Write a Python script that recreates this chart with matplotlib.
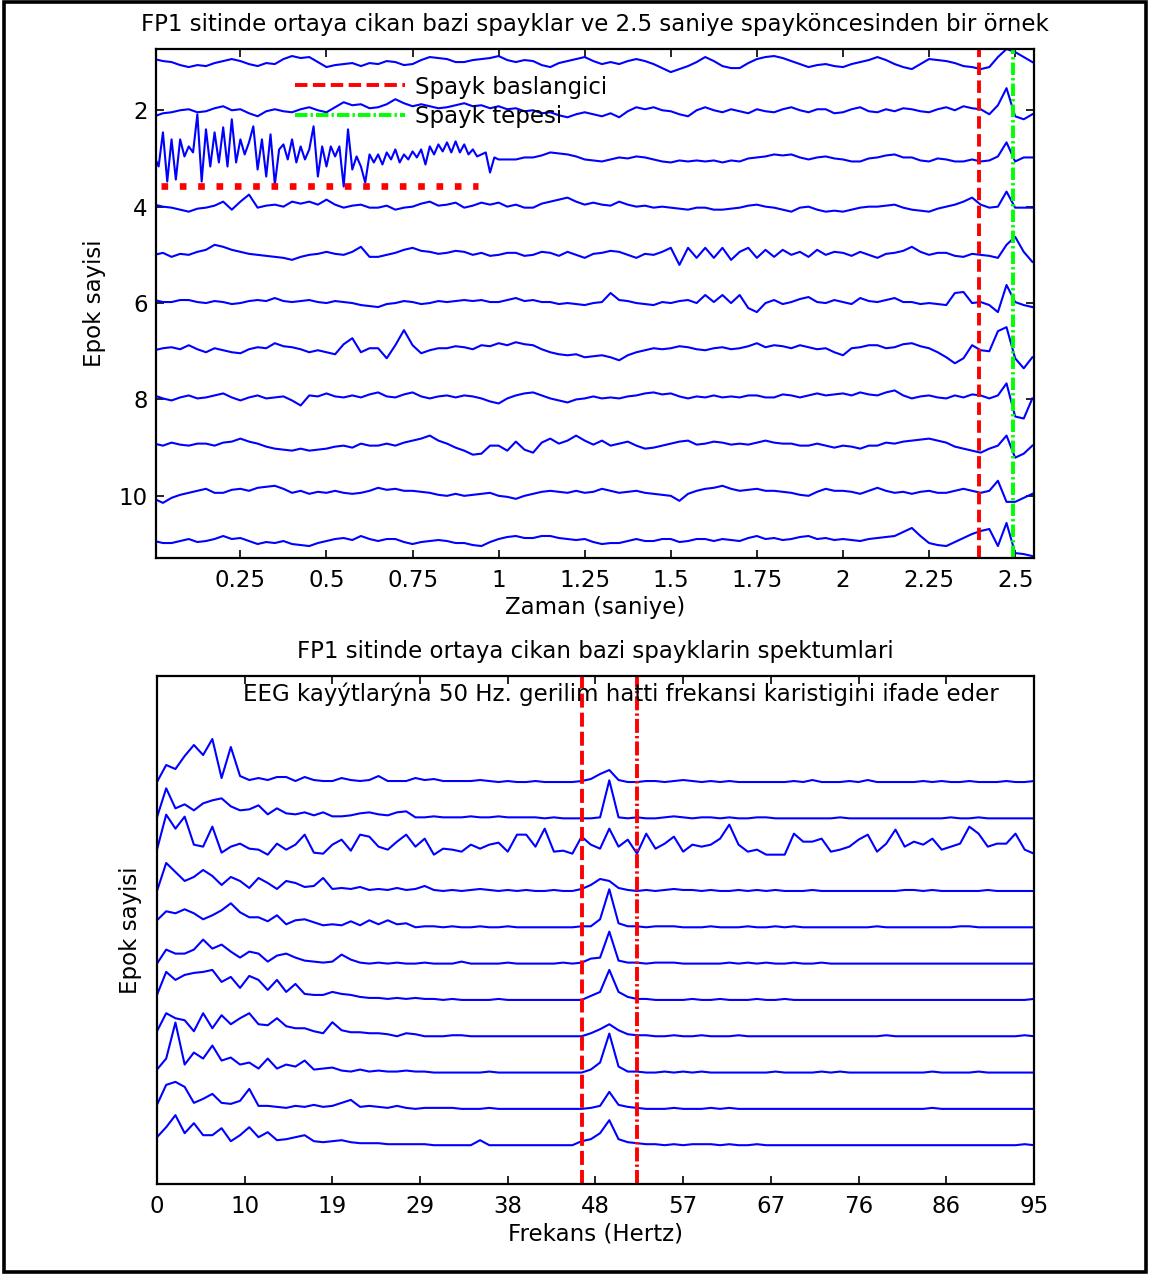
import numpy as np
import matplotlib
matplotlib.use("Agg")
import matplotlib.pyplot as plt
from matplotlib.patches import Rectangle

plt.rcParams['font.family'] = ['DejaVu Sans']
FS = 16.5

# markers
spike_onset = 2.396      # s
spike_peak = 2.494       # s
noisy_span = [0.02, 0.94]
noisy_level = 3.58
line_band = [46.0, 52.0]  # Hz

# --- epochs (deflection, px of the original, up = +), dt = 0.025 s
dt = 0.025
ep1 = [3,1,0,-3,-5,-3,-4,-1,1,3,
       1,-2,-4,-1,-2,3,6,4,5,0,
       -5,-3,-2,-1,-4,-1,-2,1,0,-3,
       -2,2,5,4,3,0,0,2,3,4,
       6,2,0,2,1,-3,-5,-1,1,3,
       5,1,-2,0,-2,1,3,1,-2,-6,
       -10,-7,-4,0,5,1,-4,-6,-6,-1,
       3,5,6,4,1,-2,-5,-3,-2,-4,
       -5,-2,0,2,5,2,-2,-5,-7,-2,
       3,2,1,-1,-4,-5,-7,-5,5,13,
       10,5,0]
ep2 = [-6,-3,-2,0,1,-2,-1,2,4,0,
       1,-3,-6,-1,1,-1,-2,1,3,0,
       -2,3,8,5,6,2,3,6,11,7,
       4,6,4,2,3,5,7,4,5,2,
       4,1,2,-1,0,-3,-2,-5,-7,-4,
       -2,-4,-6,-3,-7,-1,3,1,3,0,
       -1,-4,-6,0,3,0,-2,1,-1,-3,
       1,-1,-2,1,3,0,-2,1,1,-3,
       -2,1,3,-1,-2,1,-1,2,1,-1,
       -2,1,3,0,4,2,1,-4,5,22,
       -6,-9,-4]
# epoch 3: noisy burst sampled at dt/2 up to 1.0 s, then dt
ep3_burst = [2,-8,26,-23,19,-21,19,2,12,6,
             44,-23,29,-8,26,-4,31,-8,39,-4,
             19,4,16,32,-11,19,-18,24,-26,9,
             14,-1,19,-4,12,-1,9,32,-18,12,
             -8,12,2,12,-28,29,-11,2,-8,-24,
             4,-4,4,-6,6,-1,9,-4,4,-1,
             7,1,9,-6,12,4,14,7,16,6,
             17,6,14,4,9,2,4,6,-14,1,
             -1]
ep3_tail = [-1,-1,1,1,3,6,5,4,2,
            -1,-2,-3,-1,1,0,2,1,-1,-3,
            -4,-2,-3,-2,-3,-2,-4,-2,-3,0,
            1,2,4,3,4,1,-1,1,2,0,
            -1,-3,-3,0,1,3,4,1,1,-2,
            -3,0,-1,-3,-3,-1,-3,-2,2,16,
            -3,1,1]
ep4 = [2,0,-1,-3,-5,-2,-1,1,5,-3,
       5,12,-1,1,2,0,5,3,5,2,
       7,2,-1,1,2,-1,-1,1,-3,-1,
       0,3,5,1,2,4,-1,1,4,2,
       4,0,2,-1,-1,3,5,7,9,5,
       2,4,2,1,5,2,0,1,-1,0,
       -1,-2,-3,-1,-1,-3,-3,-2,-1,1,
       2,0,-1,-3,-5,-1,0,-3,-5,-4,
       -5,-3,-1,0,0,1,2,-1,-3,-4,
       -5,-2,0,2,5,9,2,-1,0,15,
       -1,-1,-1]
ep5 = [0,2,-2,1,0,3,5,10,8,5,
       3,1,0,-1,-2,-3,-5,-2,0,1,
       3,1,0,3,8,-2,-2,0,2,5,
       7,4,3,1,2,4,3,0,2,-1,
       0,2,2,-1,0,3,2,-1,3,0,
       -3,1,2,4,3,0,-3,1,0,3,
       7,-10,7,-3,7,-3,7,-5,3,7,
       -3,5,-2,5,0,3,-2,5,0,3,
       2,-1,3,0,-3,1,2,4,8,3,
       0,2,2,-1,-2,1,0,-1,-3,10,
       18,3,-7]
ep6 = [3,1,1,3,3,1,0,2,1,-1,
       0,2,3,2,5,2,1,2,3,1,
       0,2,1,0,-2,-3,-4,-1,0,2,
       1,-1,0,2,1,2,3,2,3,1,
       1,3,5,2,3,1,1,-1,0,-1,
       -2,0,1,10,3,2,0,-1,-2,1,
       0,2,3,0,8,1,8,0,8,-5,
       -9,0,3,-1,1,4,6,1,0,3,
       1,-1,5,2,1,3,5,1,1,-1,
       0,-1,-2,10,11,0,1,-2,-9,18,
       1,-2,-4]
ep7 = [1,3,4,2,6,2,-1,3,1,-1,
       -2,2,4,3,8,5,4,2,-1,1,
       -1,-3,7,13,-1,3,3,-7,6,21,
       6,-2,1,3,3,5,4,2,6,5,
       8,6,9,7,6,2,-1,-3,-4,-3,
       -6,-5,-4,-6,-9,-4,-1,1,3,2,
       3,5,4,2,1,3,4,2,3,5,
       8,4,6,5,3,6,4,2,3,-1,
       -4,3,4,6,6,3,4,7,8,5,
       3,-1,-6,-12,-7,6,1,0,20,24,
       -7,-17,-6]
ep8 = [4,1,-1,2,4,1,2,4,6,2,
       -1,2,4,1,2,3,-1,-6,4,3,
       6,3,2,4,2,5,7,3,2,5,
       7,3,1,3,4,2,4,3,1,-2,
       -4,1,4,6,7,4,1,-1,-3,0,
       1,3,1,2,1,3,4,6,7,5,
       6,3,1,3,2,4,2,3,2,4,
       4,2,2,5,4,2,4,6,4,5,
       6,4,7,5,4,7,9,4,1,3,
       4,2,1,4,2,5,4,1,4,16,
       -17,-19,1]
ep9 = [4,2,5,3,2,4,4,2,5,6,
       9,6,4,1,-1,-2,-3,-1,-3,-2,
       -1,1,2,0,4,2,2,4,2,5,
       7,9,12,7,4,0,-3,-7,-6,2,
       2,-3,6,-2,-5,5,9,4,7,12,
       7,3,7,2,4,6,2,-1,0,2,
       4,6,7,3,4,6,5,3,4,3,
       5,7,5,4,4,2,2,4,2,0,
       2,1,-1,2,2,5,4,6,7,8,
       9,7,5,1,-1,-3,-5,-1,2,12,
       -10,-6,2]
ep10 = [-3,-7,-2,1,3,5,7,3,3,6,
        7,5,8,9,10,7,3,5,2,4,
        3,5,3,2,3,5,8,6,7,5,
        5,4,3,1,0,2,0,1,2,3,
        0,-1,-3,0,2,4,5,4,3,5,
        3,4,7,5,3,4,5,3,2,1,
        0,-5,2,5,7,8,10,7,5,6,
        7,5,5,4,3,1,0,4,7,5,
        5,4,2,5,8,5,3,4,2,4,
        5,3,3,5,7,5,3,5,15,-6,
        -6,-2,2]
ep11 = [3,1,1,3,5,2,3,5,8,5,
        6,3,0,2,1,3,0,-1,-2,1,
        3,5,6,4,8,5,3,5,5,2,
        0,2,3,4,3,1,1,-1,-2,2,
        5,7,8,6,6,8,8,6,5,4,
        5,2,0,1,1,3,5,3,3,5,
        5,2,3,5,5,3,5,4,3,6,
        8,5,6,4,5,7,8,5,6,4,
        5,4,3,5,6,7,8,12,16,8,
        1,-1,-2,2,6,10,13,15,-2,21,
        -9,-10,-12]

# --- spectra (px of the original above baseline), df = 1 Hz, 0..95 Hz
df = 1.0
sp1 = [0,17,13,26,37,27,43,4,35,6, 2,4,2,5,5,1,5,2,1,1, 4,2,1,2,6,1,1,1,4,2,
       3,1,1,1,1,2,1,0,1,0, 0,1,0,0,0,0,1,3,8,12, 2,0,0,1,1,0,1,2,1,0,
       1,0,1,0,0,0,0,0,0,1, 0,2,0,0,0,1,0,2,0,0, 0,0,0,1,0,1,0,0,1,0, 0,0,1,0,0,1]
sp2 = [1,30,10,14,8,15,18,20,12,8, 9,13,4,10,5,4,6,3,6,2, 2,3,5,6,4,3,6,7,1,1,
       2,1,1,1,2,1,1,2,1,1, 1,1,0,1,0,0,0,0,1,38, 1,0,1,0,0,1,2,1,0,1,
       1,0,1,0,0,1,1,0,0,0, 0,0,0,0,1,0,0,0,0,0, 0,0,0,0,0,0,1,0,0,1, 0,0,0,0,0,0]
sp3 = [5,40,26,38,10,8,28,2,8,11, 6,5,0,11,5,10,20,2,1,10, 15,4,20,18,8,5,13,20,8,16,
       0,6,5,3,10,6,10,12,3,20, 20,8,26,3,4,1,18,10,6,26, 8,15,1,21,6,11,18,3,10,8,
       10,16,30,10,3,5,0,0,0,21, 13,13,16,3,5,8,15,20,3,11, 25,8,13,10,16,5,8,11,28,21,
       8,11,11,21,5,1]
sp4 = [0,28,19,10,14,21,15,6,14,10, 3,13,8,2,10,8,4,5,13,2, 3,2,4,1,2,1,3,1,2,5,
       1,0,1,0,1,2,1,0,1,0, 1,0,0,1,0,0,2,6,12,10, 3,1,0,1,0,1,2,1,1,0,
       1,0,0,1,0,1,0,1,0,0, 0,1,0,0,0,0,0,0,0,0, 0,1,1,0,1,0,0,0,0,0, 1,0,0,0,0,0]
sp5 = [7,16,14,18,14,8,12,17,24,15, 10,10,6,12,3,7,8,5,2,3, 2,6,2,7,3,7,3,4,0,1,
       1,0,1,0,0,1,0,0,1,0, 0,0,0,0,0,0,1,1,8,38, 4,1,1,0,1,1,1,0,0,0,
       1,0,0,0,1,0,0,1,0,1, 0,0,0,0,0,0,0,0,1,0, 0,0,0,0,0,0,0,1,1,0, 0,0,0,0,0,0]
sp6 = [0,14,10,10,14,24,15,19,12,6, 12,10,2,8,10,6,3,2,1,2, 9,4,1,0,1,0,1,0,0,1,
       0,0,0,2,0,0,0,0,1,0, 0,0,0,0,1,0,1,5,6,32, 3,1,1,0,1,1,1,0,0,0,
       0,0,1,0,1,0,1,0,0,1, 0,0,1,0,0,0,0,0,0,0, 0,0,0,0,0,0,0,0,0,0, 0,0,0,0,0,0]
sp7 = [5,28,20,25,27,28,30,18,23,12, 24,20,10,20,8,16,6,5,5,8, 6,5,3,2,2,1,2,1,2,1,
       1,0,1,0,0,0,0,1,0,0, 0,0,0,0,0,0,0,4,8,30, 8,3,1,1,0,0,0,0,1,0,
       0,1,0,0,0,1,0,0,1,0, 0,0,0,0,0,0,0,0,0,0, 0,0,0,0,0,0,0,0,0,0, 0,0,0,0,0,1]
sp8 = [5,23,18,16,5,23,8,21,12,18, 23,12,11,18,10,8,8,5,3,14, 6,4,4,3,3,2,0,3,2,0,
       0,0,1,1,0,0,0,0,0,0, 0,0,0,0,0,0,0,3,7,12, 6,2,1,1,0,0,1,0,0,1,
       0,0,0,1,0,0,0,0,0,0, 0,0,0,0,0,0,0,0,0,1, 0,0,0,0,0,0,0,0,0,0, 0,0,0,0,1,0]
sp9 = [3,14,50,8,20,14,27,12,15,8, 10,4,14,4,8,6,12,3,4,5, 2,1,3,1,2,1,1,2,1,1,
       0,0,0,0,0,0,1,0,0,0, 0,0,0,0,0,0,0,3,10,39, 6,1,1,0,0,1,0,1,0,1,
       0,0,0,0,0,0,0,1,0,0, 0,0,1,0,1,0,0,0,0,0, 0,0,0,0,1,0,0,0,0,1, 0,0,0,0,0,0]
sp10 = [4,24,27,22,6,10,15,6,5,8, 20,3,3,2,1,3,2,4,2,3, 6,9,2,3,2,1,3,1,0,1,
        1,1,1,0,0,0,1,0,0,0, 0,0,0,0,0,0,0,1,3,17, 4,2,1,0,0,0,1,0,0,0,
        1,0,1,0,0,0,0,0,0,0, 0,0,0,0,0,0,0,0,0,0, 0,0,0,0,1,0,0,0,0,0, 0,0,0,0,0,0]
sp11 = [8,18,30,12,22,10,10,17,4,10, 18,8,13,5,6,8,10,4,3,4, 5,3,2,2,2,1,1,1,1,1,
        0,0,0,0,0,5,0,0,0,0, 0,0,0,0,0,0,4,6,12,25, 6,3,2,1,1,0,1,0,1,1,
        1,0,1,0,0,1,0,0,0,0, 0,0,0,0,0,0,0,0,0,0, 0,0,0,0,0,0,0,0,0,0, 0,0,0,0,1,0]
spectra = [sp1, sp2, sp3, sp4, sp5, sp6, sp7, sp8, sp9, sp10, sp11]

time_ticks = [0.25, 0.5, 0.75, 1, 1.25, 1.5, 1.75, 2, 2.25, 2.5]
time_labels = ['0.25', '0.5', '0.75', '1', '1.25', '1.5', '1.75', '2', '2.25', '2.5']
freq_ticks = [0, 9.5, 19, 28.5, 38, 47.5, 57, 66.5, 76, 85.5, 95]
freq_labels = ['0', '10', '19', '29', '38', '48', '57', '67', '76', '86', '95']

t_reg = np.arange(103) * dt
t3 = np.concatenate([np.arange(len(ep3_burst)) * dt / 2,
                     1.0 + np.arange(1, len(ep3_tail) + 1) * dt])
epochs = [(t_reg, ep1), (t_reg, ep2), (t3, ep3_burst + ep3_tail), (t_reg, ep4),
          (t_reg, ep5), (t_reg, ep6), (t_reg, ep7), (t_reg, ep8), (t_reg, ep9),
          (t_reg, ep10), (t_reg, ep11)]
for t, e in epochs:
    assert len(t) == len(e), (len(t), len(e))
for s in spectra:
    assert len(s) == 96, len(s)

fig = plt.figure(figsize=(11.55, 12.74), dpi=100)

# ---------------- top: epochs
ax1 = fig.add_axes([0.1351, 0.5620, 0.7602, 0.3995])
for k, (t, ep) in enumerate(epochs, start=1):
    ax1.plot(t, k - np.array(ep) / 48.0, color='b', lw=1.5)

ax1.plot(noisy_span, [noisy_level, noisy_level], color='r', lw=4.8,
         ls=(0, (1, 1.75)), dash_capstyle='butt')
l_on = ax1.axvline(spike_onset, color='r', lw=2.8, ls=(0, (3.2, 1.4)),
                   label='Spayk baslangici')
l_pk = ax1.axvline(spike_peak, color=(0, 1, 0), lw=2.8,
                   ls=(0, (3.2, 0.8, 0.6, 0.8)), label='Spayk tepesi')

ax1.set_xlim(0.005, 2.555)
ax1.set_ylim(11.29, 0.73)
ax1.set_xticks(time_ticks)
ax1.set_xticklabels(time_labels)
ax1.set_yticks([2, 4, 6, 8, 10])
ax1.tick_params(direction='in', top=True, right=True, length=6, width=1.2,
                labelsize=FS, pad=8)
ax1.tick_params(axis='y', pad=6)
ax1.set_xlabel('Zaman (saniye)', fontsize=FS, labelpad=3)
ax1.set_ylabel('Epok sayisi', fontsize=FS, labelpad=9)
ax1.set_title('FP1 sitinde ortaya cikan bazi spayklar ve 2.5 saniye spayköncesinden bir örnek',
              fontsize=FS, pad=13)
ax1.legend(handles=[l_on, l_pk], loc='upper left', bbox_to_anchor=(0.158, 0.948),
           frameon=False, fontsize=FS, handlelength=4.8, handletextpad=0.44,
           borderpad=0, borderaxespad=0, labelspacing=0.29)
for sp in ax1.spines.values():
    sp.set_linewidth(1.6)

# ---------------- bottom: spectra
ax2 = fig.add_axes([0.1359, 0.0706, 0.7593, 0.3988])
n = len(spectra)
for k, s in enumerate(spectra, start=1):
    f = np.arange(len(s)) * df
    ax2.plot(f, (n + 1 - k) + np.array(s) / 36.3, color='b', lw=1.5)

ax2.axvline(line_band[0], color='r', lw=2.8, ls=(0, (3.6, 1.3)))
ax2.axvline(line_band[1], color='r', lw=2.8, ls=(0, (3.6, 0.8, 0.6, 0.8)))
ax2.text(9.3, 0.965, 'EEG kayýtlarýna 50 Hz. gerilim hatti frekansi karistigini ifade eder',
         transform=ax2.get_xaxis_transform(), ha='left', va='center', fontsize=FS)

ax2.set_xlim(0, 95)
ax2.set_ylim(-0.07, 13.92)
ax2.set_xticks(freq_ticks)
ax2.set_xticklabels(freq_labels)
ax2.set_yticks([])
ax2.tick_params(direction='in', top=True, length=6, width=1.2, labelsize=FS, pad=8)
ax2.set_xlabel('Frekans (Hertz)', fontsize=FS, labelpad=3)
ax2.set_ylabel('Epok sayisi', fontsize=FS, labelpad=11)
ax2.set_title('FP1 sitinde ortaya cikan bazi spayklarin spektumlari', fontsize=FS, pad=13)
for sp in ax2.spines.values():
    sp.set_linewidth(1.6)

# outer frame
fig.patches.append(Rectangle((4 / 1155, 2 / 1274), 1142 / 1155, 1270 / 1274,
                             transform=fig.transFigure, fill=False, lw=2.6,
                             edgecolor='k'))

fig.savefig('out.png', dpi=100)
